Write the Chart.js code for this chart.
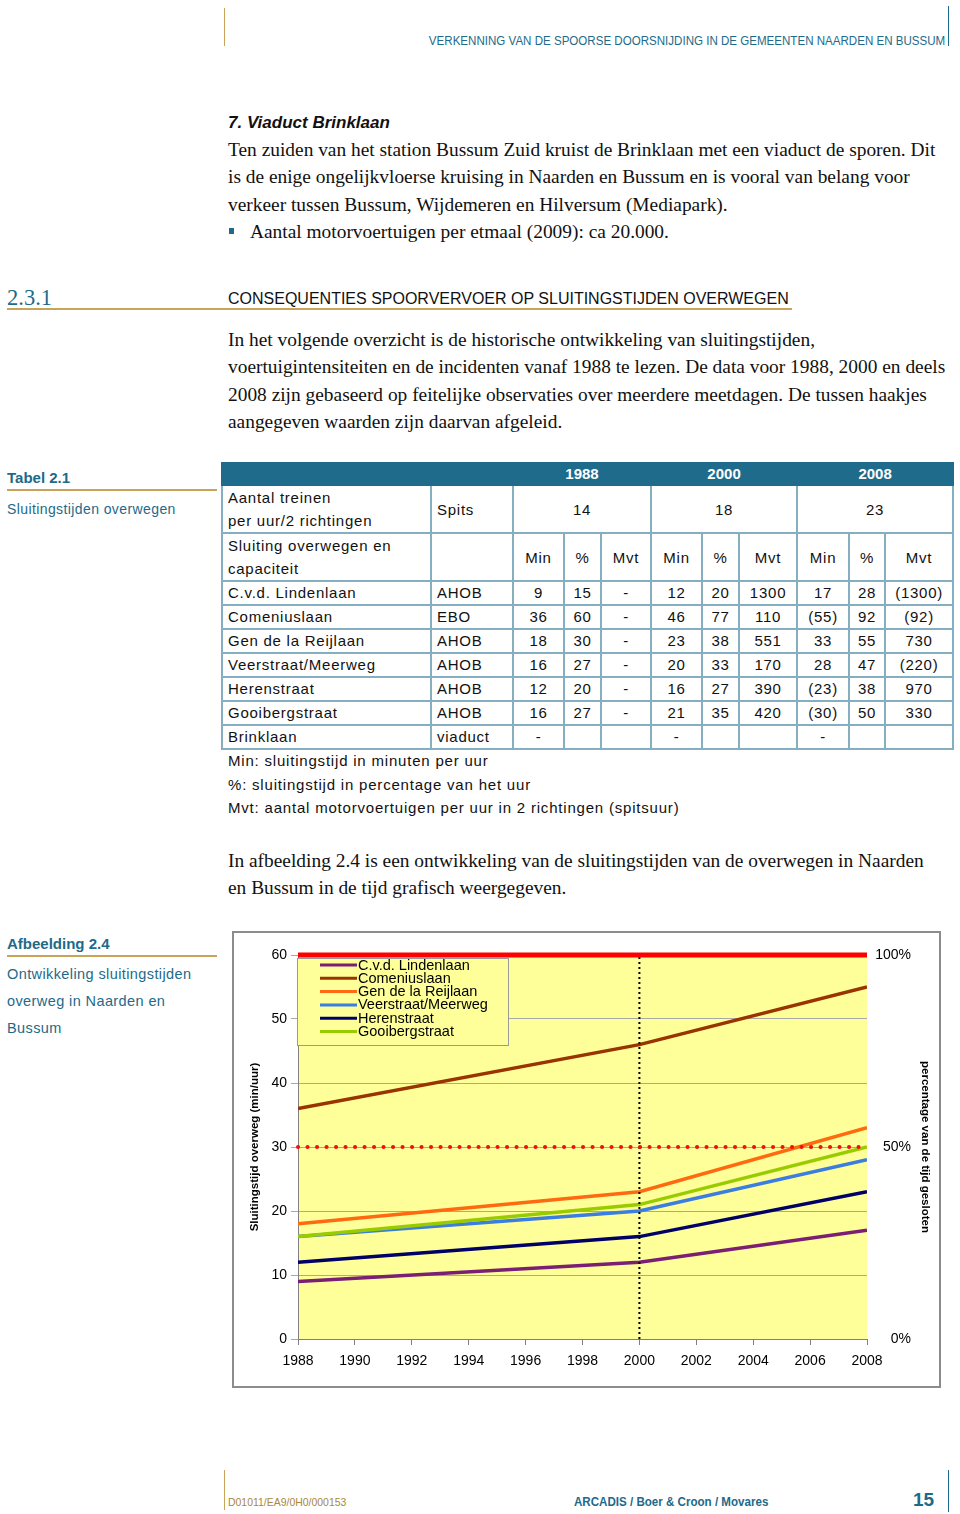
<!DOCTYPE html>
<html>
<head>
<meta charset="utf-8">
<script src="https://cdn.jsdelivr.net/npm/chart.js@4/dist/chart.umd.min.js"></script>
<style>
  html, body { margin: 0; padding: 0; background: #fff; }
  body { position: relative; width: 960px; height: 1514px; overflow: hidden; font-family: "Liberation Sans", Arial, sans-serif; color: #111; }
  .abs { position: absolute; white-space: nowrap; }
  .serif { font-family: "Liberation Serif", "Times New Roman", serif; font-size: 19.4px; line-height: 27.4px; color: #111; }
  .teal { color: #1d6a89; }
  .vline { position: absolute; width: 1px; }
  .hline { position: absolute; height: 1.5px; background: #c9a35a; }
  #tbl { position: absolute; left: 221px; top: 462px; width: 731px; border-collapse: collapse; table-layout: fixed; font-size: 15px; letter-spacing: 0.75px; color: #111; }
  #tbl td { border: 2px solid #86aec1; padding: 0; text-align: center; height: 22px; line-height: 22px; white-space: nowrap; }
  #tbl td.l { text-align: left; padding-left: 5px; }
  #tbl tr.hd td { background: #1f6b8c; color: #fff; font-weight: bold; border-color: #1f6b8c; height: 20px; line-height: 20px; letter-spacing: 0; }
  #tbl tr.r1 td { height: 42px; line-height: 23px; }
  #tbl tr.r2 td { height: 44px; line-height: 23px; }
  #chartBox { position: absolute; left: 232px; top: 931px; width: 705px; height: 453px; border: 2px solid #8c8c8c; }
</style>
</head>
<body>

<!-- page header -->
<div class="vline" style="left:224px; top:8px; height:38px; background:#c9a35a;"></div>
<div class="vline" style="left:948px; top:6px; height:40px; background:#1d6a89;"></div>
<div class="abs teal" style="right:15px; top:34px; font-size:12.5px; transform:scaleX(0.925); transform-origin:right center;">VERKENNING VAN DE SPOORSE DOORSNIJDING IN DE GEMEENTEN NAARDEN EN BUSSUM</div>

<div class="abs" style="left:228px; top:113px; font-size:17px; font-weight:bold; font-style:italic; line-height:20px;">7. Viaduct Brinklaan</div>
<div class="abs serif" style="left:228px; top:136px;">
Ten zuiden van het station Bussum Zuid kruist de Brinklaan met een viaduct de sporen. Dit<br>
is de enige ongelijkvloerse kruising in Naarden en Bussum en is vooral van belang voor<br>
verkeer tussen Bussum, Wijdemeren en Hilversum (Mediapark).<br>
<span style="padding-left:22px;">Aantal motorvoertuigen per etmaal (2009): ca 20.000.</span>
</div>
<div class="abs" style="left:229px; top:228px; width:5px; height:6px; background:#1d6a89;"></div>

<div class="abs serif teal" style="left:7px; top:284px; font-size:22.5px; line-height:28px;">2.3.1</div>
<div class="abs" style="left:228px; top:289px; font-size:16px; line-height:20px; letter-spacing:0;">CONSEQUENTIES SPOORVERVOER OP SLUITINGSTIJDEN OVERWEGEN</div>
<div class="hline" style="left:7px; top:308px; width:785px;"></div>

<div class="abs serif" style="left:228px; top:326px;">
In het volgende overzicht is de historische ontwikkeling van sluitingstijden,<br>
voertuigintensiteiten en de incidenten vanaf 1988 te lezen. De data voor 1988, 2000 en deels<br>
2008 zijn gebaseerd op feitelijke observaties over meerdere meetdagen. De tussen haakjes<br>
aangegeven waarden zijn daarvan afgeleid.
</div>

<!-- table caption -->
<div class="abs teal" style="left:7px; top:469px; font-size:15px; font-weight:bold; line-height:18px;">Tabel 2.1</div>
<div class="hline" style="left:7px; top:489px; width:210px;"></div>
<div class="abs teal" style="left:7px; top:500px; font-size:14px; line-height:18px; letter-spacing:0.4px;">Sluitingstijden overwegen</div>

<table id="tbl">
  <colgroup>
    <col style="width:209px"><col style="width:82px"><col style="width:51px"><col style="width:37px"><col style="width:50px">
    <col style="width:51px"><col style="width:37px"><col style="width:58px"><col style="width:52px"><col style="width:36px"><col style="width:68px">
  </colgroup>
  <tbody id="tbody"></tbody>
</table>

<div class="abs" style="left:228px; top:749px; font-size:15px; line-height:23.5px; letter-spacing:0.8px;">
Min: sluitingstijd in minuten per uur<br>
%: sluitingstijd in percentage van het uur<br>
Mvt: aantal motorvoertuigen per uur in 2 richtingen (spitsuur)
</div>

<div class="abs serif" style="left:228px; top:847px;">
In afbeelding 2.4 is een ontwikkeling van de sluitingstijden van de overwegen in Naarden<br>
en Bussum in de tijd grafisch weergegeven.
</div>

<!-- figure caption -->
<div class="abs teal" style="left:7px; top:935px; font-size:15px; font-weight:bold; line-height:18px;">Afbeelding 2.4</div>
<div class="hline" style="left:7px; top:955px; width:210px;"></div>
<div class="abs teal" style="left:7px; top:961px; font-size:14.5px; line-height:27px; letter-spacing:0.4px;">
Ontwikkeling sluitingstijden<br>
overweg in Naarden en<br>
Bussum
</div>

<div id="chartBox"><canvas id="closureChart" width="705" height="453"></canvas></div>

<!-- footer -->
<div class="vline" style="left:224px; top:1470px; height:40px; background:#c9a35a;"></div>
<div class="vline" style="left:948px; top:1470px; height:42px; background:#1d6a89;"></div>
<div class="abs" style="left:228px; top:1495px; font-size:11px; line-height:14px; color:#a8883c; transform:scaleX(0.95); transform-origin:left center;">D01011/EA9/0H0/000153</div>
<div class="abs teal" style="left:574px; top:1495px; font-size:12px; font-weight:bold; line-height:14px; transform:scaleX(0.965); transform-origin:left center;">ARCADIS / Boer &amp; Croon / Movares</div>
<div class="abs teal" style="left:913px; top:1489px; font-size:19px; font-weight:bold; line-height:22px;">15</div>

<script>
// chart data
const chartYears = [1988, 2000, 2008];
const seriesNames = ["C.v.d. Lindenlaan", "Comeniuslaan", "Gen de la Reijlaan", "Veerstraat/Meerweg", "Herenstraat", "Gooibergstraat"];
const lindenlaan = [9, 12, 17];
const comeniuslaan = [36, 46, 55];
const reijlaan = [18, 23, 33];
const veerstraat = [16, 20, 28];
const herenstraat = [12, 16, 23];
const gooibergstraat = [16, 21, 30];
const seriesValues = [lindenlaan, comeniuslaan, reijlaan, veerstraat, herenstraat, gooibergstraat];

const fullClosed = 60;   // 100% of the hour
const halfClosed = 30;   // 50% of the hour
const markYear = 2000;
const yearRange = [1988, 2008];
const minuteRange = [0, 60];
const percentRange = [0, 100];

// table data
const tableRows = [
    ["C.v.d. Lindenlaan", "AHOB", "9", "15", "-", "12", "20", "1300", "17", "28", "(1300)"],
    ["Comeniuslaan", "EBO", "36", "60", "-", "46", "77", "110", "(55)", "92", "(92)"],
    ["Gen de la Reijlaan", "AHOB", "18", "30", "-", "23", "38", "551", "33", "55", "730"],
    ["Veerstraat/Meerweg", "AHOB", "16", "27", "-", "20", "33", "170", "28", "47", "(220)"],
    ["Herenstraat", "AHOB", "12", "20", "-", "16", "27", "390", "(23)", "38", "970"],
    ["Gooibergstraat", "AHOB", "16", "27", "-", "21", "35", "420", "(30)", "50", "330"],
    ["Brinklaan", "viaduct", "-", "", "", "-", "", "", "-", "", ""],
];
const tableYears = ["1988", "2000", "2008"];
const trainsPerHour = ["14", "18", "23"];

// build table
let html = '<tr class="hd"><td></td><td></td>';
tableYears.forEach((y) => { html += '<td colspan="3">' + y + '</td>'; });
html += '</tr><tr class="r1"><td class="l">Aantal treinen<br>per uur/2 richtingen</td><td class="l">Spits</td>';
trainsPerHour.forEach((t) => { html += '<td colspan="3">' + t + '</td>'; });
html += '</tr><tr class="r2"><td class="l">Sluiting overwegen en<br>capaciteit</td><td></td>';
tableYears.forEach(() => { html += '<td>Min</td><td>%</td><td>Mvt</td>'; });
html += '</tr>';
tableRows.forEach((row) => {
    html += '<tr>';
    row.forEach((cell, i) => {
        html += i < 2 ? '<td class="l">' + cell + '</td>' : '<td>' + cell + '</td>';
    });
    html += '</tr>';
});
document.getElementById("tbody").innerHTML = html;

// chart
const seriesColors = ["#7b1f74", "#993300", "#ff6a10", "#3b7de0", "#000066", "#99cc00"];
const plotYellow = "#ffff99";
const fontFamily = '"Liberation Sans", Arial, sans-serif';

const plotBg = {
    id: "plotBg",
    beforeDraw(chart) {
        const { ctx, chartArea } = chart;
        ctx.save();
        ctx.fillStyle = plotYellow;
        ctx.fillRect(chartArea.left, chartArea.top, chartArea.right - chartArea.left, chartArea.bottom - chartArea.top);
        ctx.restore();
    },
};

// legend box sitting inside the plot, top left
const boxLegend = {
    id: "boxLegend",
    afterDraw(chart) {
        const { ctx, chartArea } = chart;
        const x = chartArea.left - 1;
        const y = chartArea.top + 3;
        ctx.save();
        ctx.fillStyle = plotYellow;
        ctx.fillRect(x, y, 211, 87);
        ctx.strokeStyle = "#9a9a9a";
        ctx.lineWidth = 1;
        ctx.strokeRect(x + 0.5, y + 0.5, 211, 87);
        ctx.font = "14.5px " + fontFamily;
        ctx.textBaseline = "middle";
        seriesNames.forEach((name, i) => {
            const cy = y + 7 + i * 13.3;
            ctx.strokeStyle = seriesColors[i];
            ctx.lineWidth = 3;
            ctx.beginPath();
            ctx.moveTo(x + 23, cy);
            ctx.lineTo(x + 60, cy);
            ctx.stroke();
            ctx.fillStyle = "#000";
            ctx.fillText(name, x + 61, cy + 0.5);
        });
        ctx.restore();
    },
};

const datasets = seriesNames.map((name, i) => ({
    label: name,
    data: chartYears.map((yr, j) => ({ x: yr, y: seriesValues[i][j] })),
    borderColor: seriesColors[i],
    borderWidth: 3.5,
    order: i === 5 ? 1 : 2,
}));

datasets.push({
    label: "100%",
    data: [{ x: yearRange[0], y: fullClosed }, { x: yearRange[1], y: fullClosed }],
    borderColor: "#ff0000",
    borderWidth: 5,
    clip: false,
    order: 0,
});
datasets.push({
    label: "50%",
    data: [{ x: yearRange[0], y: halfClosed }, { x: yearRange[1], y: halfClosed }],
    borderColor: "#ee1111",
    borderWidth: 4,
    borderDash: [0.1, 9.4],
    borderCapStyle: "round",
    clip: false,
    order: 0,
});
datasets.push({
    label: "2000",
    data: [{ x: markYear, y: minuteRange[0] }, { x: markYear, y: minuteRange[1] }],
    borderColor: "#000",
    borderWidth: 2,
    borderDash: [2, 3],
    order: 0,
});

const tickFont = { family: fontFamily, size: 14 };

new Chart(document.getElementById("closureChart"), {
    type: "line",
    data: { datasets: datasets },
    options: {
        responsive: false,
        animation: false,
        layout: {
            padding: { top: 22, right: 28, left: 0, bottom: 0 },
        },
        elements: {
            point: { radius: 0 },
            line: { tension: 0 },
        },
        plugins: {
            legend: { display: false },
            tooltip: { enabled: false },
        },
        scales: {
            x: {
                type: "linear",
                min: yearRange[0],
                max: yearRange[1],
                ticks: {
                    stepSize: 2,
                    callback: (v) => String(v),
                    font: tickFont,
                    color: "#000",
                    padding: 8,
                    maxRotation: 0,
                },
                grid: { drawOnChartArea: false, tickLength: 6, color: "#808080" },
                border: { color: "#808080" },
                afterFit: (s) => { s.height = 47; },
            },
            y: {
                position: "left",
                min: minuteRange[0],
                max: minuteRange[1],
                ticks: { stepSize: 10, font: tickFont, color: "#000", padding: 4 },
                grid: { color: "#a8a8a8", tickLength: 7 },
                border: { color: "#808080" },
                title: {
                    display: true,
                    text: "Sluitingstijd overweg (min/uur)",
                    font: { family: fontFamily, size: 11.5, weight: "bold" },
                    color: "#000",
                    padding: { top: 14, bottom: 0 },
                },
                afterFit: (s) => { s.width = 64; },
            },
            y2: {
                position: "right",
                min: percentRange[0],
                max: percentRange[1],
                ticks: {
                    stepSize: 50,
                    callback: (v) => v + "%",
                    font: tickFont,
                    color: "#000",
                    crossAlign: "far",
                },
                grid: { display: false },
                border: { display: false },
                title: {
                    display: true,
                    text: "percentage van de tijd gesloten",
                    font: { family: fontFamily, size: 11.5, weight: "bold" },
                    color: "#000",
                    padding: { top: -21, bottom: 0 },
                },
                afterFit: (s) => { s.width = 44; },
            },
        },
    },
    plugins: [plotBg, boxLegend],
});
</script>
</body>
</html>
